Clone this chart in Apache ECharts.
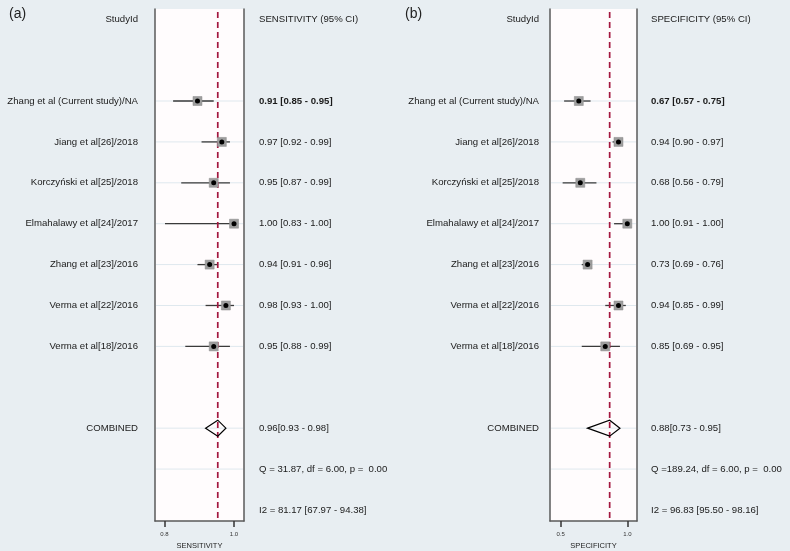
<!DOCTYPE html>
<html>
<head>
<meta charset="utf-8">
<script src="https://cdn.jsdelivr.net/npm/echarts@6/dist/echarts.min.js"></script>
<style>
html,body{margin:0;padding:0;background:#e8eef2;}
#chart{width:790px;height:551px;}
</style>
</head>
<body>
<div id="chart"></div>
<script>
// ---------------- data ----------------
const studies = [
  "Zhang et al (Current study)/NA",
  "Jiang et al[26]/2018",
  "Korczyński et al[25]/2018",
  "Elmahalawy et al[24]/2017",
  "Zhang et al[23]/2016",
  "Verma et al[22]/2016",
  "Verma et al[18]/2016"
];
const sensEst = [0.91, 0.97, 0.95, 1.00, 0.94, 0.98, 0.95];
const sensLo  = [0.85, 0.92, 0.87, 0.83, 0.91, 0.93, 0.88];
const sensHi  = [0.95, 0.99, 0.99, 1.00, 0.96, 1.00, 0.99];
const specEst = [0.67, 0.94, 0.68, 1.00, 0.73, 0.94, 0.85];
const specLo  = [0.57, 0.90, 0.56, 0.91, 0.69, 0.85, 0.69];
const specHi  = [0.75, 0.97, 0.79, 1.00, 0.76, 0.99, 0.95];
const sensPooled = [0.96, 0.93, 0.98];
const specPooled = [0.88, 0.73, 0.95];
const sensQText = "Q = 31.87, df = 6.00, p =  0.00";
const specQText = "Q =189.24, df = 6.00, p =  0.00";
const sensI2Text = "I2 = 81.17 [67.97 - 94.38]";
const specI2Text = "I2 = 96.83 [95.50 - 98.16]";
const sensTicks = [0.8, 1.0];
const specTicks = [0.5, 1.0];
const headLeft = "StudyId";
const combinedLabel = "COMBINED";

// row indices (top to bottom)
const HEAD_ROW = 0;
const studyRows = [2, 3, 4, 5, 6, 7, 8];
const COMB_ROW = 10, Q_ROW = 11, I2_ROW = 12;

// ---------------- layout ----------------
const FONT = '"Liberation Sans", Arial, sans-serif';
const Y_MIN = -0.25, Y_MAX = 12.27;

const panels = [
  {tag: "(a)", tagLeft: 4, grid: {left: 155, right: 546, top: 9, bottom: 30},
   dMin: 0.8054, dMax: 1.0246, tMin: 0.7733, tMax: 1.0287, ticks: sensTicks,
   axisName: "SENSITIVITY", header: "SENSITIVITY (95% CI)",
   est: sensEst, lo: sensLo, hi: sensHi, pooled: sensPooled,
   qText: sensQText, i2Text: sensI2Text, leftGap: 17, rightGap: 15},
  {tag: "(b)", tagLeft: 400, grid: {left: 550, right: 153, top: 9, bottom: 30},
   dMin: 0.474, dMax: 1.066, tMin: 0.4197, tMax: 1.0728, ticks: specTicks,
   axisName: "SPECIFICITY", header: "SPECIFICITY (95% CI)",
   est: specEst, lo: specLo, hi: specHi, pooled: specPooled,
   qText: specQText, i2Text: specI2Text, leftGap: 11, rightGap: 14}
];

const fmt = v => v.toFixed(2);

const option = {
  backgroundColor: '#e8eef2',
  animation: false,
  title: [], grid: [], xAxis: [], yAxis: [], series: []
};

panels.forEach((P, gi) => {
  option.title.push({text: P.tag, left: P.tagLeft, top: 2,
    textStyle: {fontFamily: FONT, fontSize: 14, fontWeight: 'normal', color: '#222'}});
  option.grid.push(Object.assign({show: true, backgroundColor: '#fffcfd', borderWidth: 0,
    containLabel: false, outerBoundsMode: 'none'}, P.grid));
  const dataX = option.xAxis.length;
  // data axis (hidden)
  option.xAxis.push({type: 'value', gridIndex: gi, min: P.dMin, max: P.dMax, show: false});
  // tick axis (visible)
  option.xAxis.push({type: 'value', gridIndex: gi, min: P.tMin, max: P.tMax, position: 'bottom',
    axisLine: {show: true, onZero: false, lineStyle: {color: '#5a5a5a', width: 1.5}},
    axisTick: {show: true, length: 6, customValues: P.ticks, lineStyle: {color: '#333', width: 1.5}},
    axisLabel: {show: true, customValues: P.ticks, margin: 10, fontSize: 6, fontFamily: FONT, color: '#333',
      formatter: v => v.toFixed(1)},
    splitLine: {show: false},
    name: P.axisName, nameLocation: 'middle', nameGap: 15,
    nameTextStyle: {fontSize: 7.5, fontFamily: FONT, color: '#222'}});
  const yi = option.yAxis.length;
  option.yAxis.push({type: 'value', gridIndex: gi, inverse: true, min: Y_MIN, max: Y_MAX, position: 'left',
    axisLine: {show: true, onZero: false, lineStyle: {color: '#5a5a5a', width: 1.5}}, axisTick: {show: false},
    axisLabel: {show: false}, splitLine: {show: false}});
  option.yAxis.push({type: 'value', gridIndex: gi, inverse: true, min: Y_MIN, max: Y_MAX, position: 'right',
    axisLine: {show: true, onZero: false, lineStyle: {color: '#5a5a5a', width: 1.5}}, axisTick: {show: false},
    axisLabel: {show: false}, splitLine: {show: false}});

  const base = {xAxisIndex: dataX, yAxisIndex: yi, silent: true};

  // horizontal grid lines
  const gridRows = studyRows.concat([COMB_ROW, Q_ROW]);
  option.series.push(Object.assign({type: 'custom', z: 1, clip: false,
    data: gridRows.map(r => [P.dMin, P.dMax, r]),
    renderItem: (params, api) => {
      const a = api.coord([api.value(0), api.value(2)]);
      const b = api.coord([api.value(1), api.value(2)]);
      return {type: 'line', shape: {x1: a[0] + 1, y1: a[1], x2: b[0] - 1, y2: b[1]},
        style: {stroke: '#dfe8ee', lineWidth: 1}};
    }}, base));

  // whiskers
  option.series.push(Object.assign({type: 'custom', z: 2, clip: false,
    data: P.est.map((v, i) => [P.lo[i], P.hi[i], studyRows[i]]),
    renderItem: (params, api) => {
      const a = api.coord([api.value(0), api.value(2)]);
      const b = api.coord([api.value(1), api.value(2)]);
      return {type: 'line', shape: {x1: a[0], y1: a[1], x2: b[0], y2: b[1]},
        style: {stroke: '#3a3a3a', lineWidth: 1.3}};
    }}, base));

  // pooled reference dashed line
  option.series.push(Object.assign({type: 'custom', z: 3, clip: false,
    data: [[P.pooled[0], Y_MIN, Y_MAX]],
    renderItem: (params, api) => {
      const a = api.coord([api.value(0), api.value(1)]);
      const b = api.coord([api.value(0), api.value(2)]);
      return {type: 'line', shape: {x1: a[0], y1: a[1] + 3, x2: b[0], y2: b[1]},
        style: {stroke: '#a3173f', lineWidth: 1.7, lineDash: [6, 4]}};
    }}, base));

  // squares
  option.series.push(Object.assign({type: 'scatter', z: 4, symbol: 'rect', symbolSize: 9,
    itemStyle: {color: '#9e9e9e', borderColor: '#8a8a8a', borderWidth: 0.5, opacity: 1},
    data: P.est.map((v, i) => [v, studyRows[i]])}, base));
  // dots
  option.series.push(Object.assign({type: 'scatter', z: 5, symbol: 'circle', symbolSize: 5,
    itemStyle: {color: '#000', opacity: 1},
    data: P.est.map((v, i) => [v, studyRows[i]])}, base));

  // pooled diamond
  option.series.push(Object.assign({type: 'custom', z: 5, clip: false,
    data: [[P.pooled[0], P.pooled[1], P.pooled[2], COMB_ROW]],
    renderItem: (params, api) => {
      const c = api.coord([api.value(0), api.value(3)]);
      const l = api.coord([api.value(1), api.value(3)]);
      const r = api.coord([api.value(2), api.value(3)]);
      const h = 8;
      return {type: 'polygon', shape: {points: [[l[0], c[1]], [c[0], c[1] - h], [r[0], c[1]], [c[0], c[1] + h]]},
        style: {fill: 'none', stroke: '#000', lineWidth: 1.2}};
    }}, base));

  // texts
  const leftTexts = [[HEAD_ROW, headLeft, false]]
    .concat(studies.map((s, i) => [studyRows[i], s, false]))
    .concat([[COMB_ROW, combinedLabel, false]]);
  const rightTexts = [[HEAD_ROW, P.header, false]]
    .concat(P.est.map((v, i) => [studyRows[i], fmt(v) + " [" + fmt(P.lo[i]) + " - " + fmt(P.hi[i]) + "]", i === 0]))
    .concat([[COMB_ROW, fmt(P.pooled[0]) + "[" + fmt(P.pooled[1]) + " - " + fmt(P.pooled[2]) + "]", false],
             [Q_ROW, P.qText, false], [I2_ROW, P.i2Text, false]]);

  const mkText = (items, xVal, dx, align) => Object.assign({type: 'custom', z: 6, clip: false,
    data: items.map(t => [xVal, t[0]]),
    renderItem: (params, api) => {
      const p = api.coord([api.value(0), api.value(1)]);
      const t = items[params.dataIndex];
      return {type: 'text', x: p[0] + dx, y: p[1],
        style: {text: t[1], textAlign: align, textVerticalAlign: 'middle',
          font: (t[2] ? 'bold ' : '') + '9.6px ' + FONT, fill: '#1a1a1a'}};
    }}, base);
  option.series.push(mkText(leftTexts, P.dMin, -P.leftGap, 'right'));
  option.series.push(mkText(rightTexts, P.dMax, P.rightGap, 'left'));
});

const chart = echarts.init(document.getElementById('chart'), null, {renderer: 'canvas'});
chart.setOption(option);
</script>
</body>
</html>
